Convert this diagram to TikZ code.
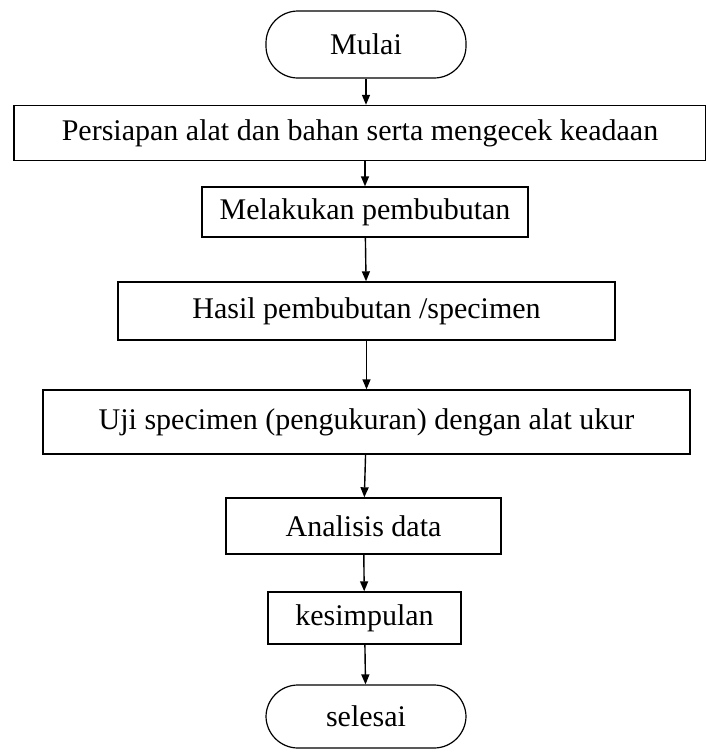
\documentclass[tikz,border=0pt]{standalone}
\usepackage{fontspec}
\setmainfont{Liberation Serif}
\usetikzlibrary{arrows.meta}
\begin{document}
\begin{tikzpicture}[x=1pt,y=-1pt,
  every node/.style={font=\fontsize{30}{34}\selectfont, inner sep=0pt, align=center},
  procbox/.style={draw, line width=1.4pt},
  termbox/.style={draw, line width=1.2pt, rounded corners=32pt},
  flow/.style={line width=1.4pt, -{Triangle[length=10pt,width=8pt]}}]
\useasboundingbox (0,0) rectangle (705,753);
\node[termbox, minimum width=200pt, minimum height=67pt] (mulai) at (366,44.5) {Mulai};
\node[procbox, minimum width=692pt, minimum height=55pt] (persiapan) at (360,133) {Persiapan alat dan bahan serta mengecek keadaan};
\node[procbox, minimum width=326pt, minimum height=50pt] (bubut) at (365,212) {Melakukan pembubutan};
\node[procbox, minimum width=497pt, minimum height=58pt] (hasil) at (366.5,311) {Hasil pembubutan /specimen};
\node[procbox, minimum width=647pt, minimum height=64pt] (uji) at (366.5,422) {Uji specimen (pengukuran) dengan alat ukur};
\node[procbox, minimum width=275pt, minimum height=56pt] (analisis) at (363.5,526) {Analisis data};
\node[procbox, minimum width=193pt, minimum height=52pt] (simpul) at (364.5,618) {kesimpulan};
\node[termbox, minimum width=200pt, minimum height=63pt] (selesai) at (366,716.5) {selesai};
\draw[flow] (mulai) -- (mulai |- persiapan.north);
\draw[flow] (bubut |- persiapan.south) -- (bubut);
\draw[flow] (bubut) -- (hasil);
\draw[flow] (hasil) -- (uji);
\draw[flow] (uji) -- (analisis);
\draw[flow] (analisis) -- (simpul);
\draw[flow] (simpul) -- (selesai);
\end{tikzpicture}
\end{document}
